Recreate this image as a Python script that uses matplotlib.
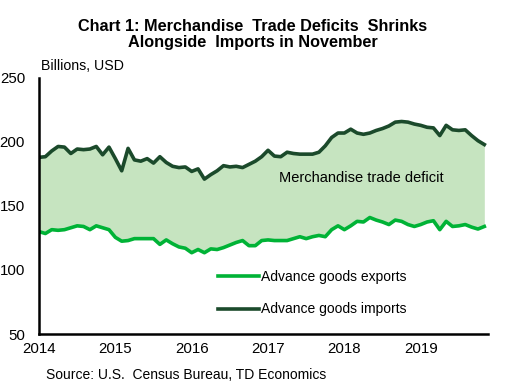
import numpy as np
import matplotlib
matplotlib.use("Agg")
import matplotlib.pyplot as plt

plt.rcParams['font.family'] = ['Liberation Sans', 'DejaVu Sans']

# monthly, Jan 2014 - Nov 2019, billions USD
imports = [188, 188.5, 193, 196.5, 196, 191, 194.5, 194, 194.5, 196.5,
           190, 196, 187, 177.5, 195, 186, 185, 187, 183.5, 188.5,
           184, 181, 180, 180.5, 177, 179, 171, 174.5, 177.5, 181.5,
           180.5, 181, 180, 182.5, 185, 188.5, 193.5, 189, 188.5, 192,
           191, 190.5, 190.5, 190.5, 192, 197, 203.5, 207, 207, 210,
           207, 206, 207, 209, 210.5, 212.5, 215.5, 216, 215.5, 214,
           213, 211.5, 211, 205, 213, 209.5, 209, 209.5, 205, 201, 198]
exports = [130, 128.5, 131.5, 131, 131.5, 133, 134.5, 134, 131.5, 134.5,
           133, 131.5, 125.5, 122.5, 123, 124.5, 124.5, 124.5, 124.5, 120,
           123.5, 120.5, 118, 117, 113.5, 116, 113.5, 116.5, 116, 117.5,
           119.5, 121.5, 123, 119, 119, 123, 123.5, 123, 123, 123,
           124.5, 126, 124.5, 126, 127, 126, 131.5, 134.5, 131.5, 134.5,
           138, 137.5, 141, 139, 137.5, 135.5, 139, 138, 135.5, 134,
           135.5, 137.5, 138.5, 131.5, 138, 134, 134.5, 135.5, 133.5, 132, 134]
years = ['2014', '2015', '2016', '2017', '2018', '2019']

months = np.arange(len(imports))

fig = plt.figure(figsize=(5.16, 3.86), dpi=100)
ax = fig.add_axes([0.0756, 0.1347, 0.8704, 0.6633])

ax.fill_between(months, exports, imports, color='#c6e4c0', linewidth=0)
ax.plot(months, exports, color='#00b336', linewidth=2.6, label='Advance goods exports')
ax.plot(months, imports, color='#1b4a2b', linewidth=2.6, label='Advance goods imports')

ax.set_xlim(0, 70.6)
ax.set_ylim(50, 250)
ax.set_yticks([50, 100, 150, 200, 250])
ax.set_xticks(np.arange(len(years)) * 12)
ax.set_xticklabels(years)
ax.tick_params(length=0, labelsize=10.8, pad=6)
ax.tick_params(axis='y', pad=10)
for s in ['top', 'right']:
    ax.spines[s].set_visible(False)
for s in ['left', 'bottom']:
    ax.spines[s].set_linewidth(1.8)

fig.text(279 / 516, 1 - 178 / 386, 'Merchandise trade deficit', fontsize=10.5, va='center')
ax.legend(loc='lower left', bbox_to_anchor=(0.37, 0.02), frameon=False,
          fontsize=10, handlelength=3.0, handletextpad=0.1, labelspacing=1.35)

fig.text(0.49, 0.952, 'Chart 1: Merchandise  Trade Deficits  Shrinks\nAlongside  Imports in November',
         ha='center', va='top', fontsize=11.7, fontweight='bold', linespacing=1.1)
fig.text(41 / 516, 1 - 66 / 386, 'Billions, USD', fontsize=10.2, va='center')
fig.text(46 / 516, 1 - 375 / 386, 'Source: U.S.  Census Bureau, TD Economics', fontsize=10, va='center')

plt.savefig('out.png', dpi=100)
